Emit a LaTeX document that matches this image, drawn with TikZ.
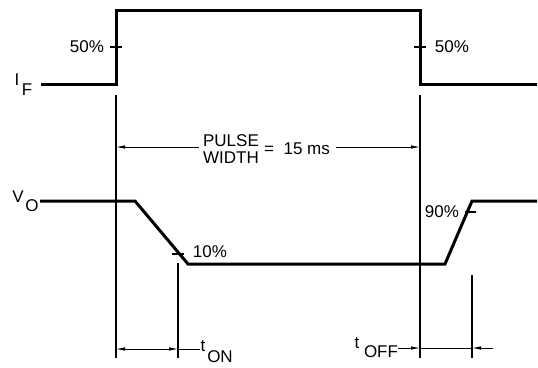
\documentclass[tikz,border=0pt]{standalone}
\usepackage{fontspec}
\setmainfont{Liberation Sans}
\usepackage{tikz}
\usetikzlibrary{arrows.meta,positioning}

\tikzset{
  wave/.style={line width=3pt, line join=miter},
  edge/.style={line width=1.8pt},
  guide/.style={line width=1.1pt},
  dim/.style={line width=0.8pt},
  tip/.style={-{Latex[length=9pt,width=3.5pt]}},
  lbl/.style={font=\fontsize{17}{18}\selectfont, inner sep=0pt},
}

\begin{document}
\begin{tikzpicture}[x=1pt,y=-1pt]
  \useasboundingbox (0,0) rectangle (538,367);

  % input current I_F
  \draw[wave] (41,84) -- (116,84) -- (116,10) -- (420,10) -- (420,84) -- (537,84);
  \draw[guide] (110,47) -- (122,47);
  \draw[guide] (414,47) -- (426,47);
  \node[lbl] (iflo) at (87,47) {50\%};
  \node[lbl] (ifhi) at (452,47) {50\%};
  \node[lbl] (ilbl) at (17,80) {I};
  \node[lbl] (flbl) at (27,90) {F};

  % output voltage V_O
  \draw[wave] (40,201) -- (135,201) -- (188,264) -- (445,264) -- (472,201) -- (537,201);
  \draw[guide] (172,254) -- (184,254);
  \draw[guide] (465,212) -- (476,212);
  \node[lbl] (ten) at (210,252) {10\%};
  \node[lbl] (ninety) at (442,212) {90\%};
  \node[lbl] (vlbl) at (18,197) {V};
  \node[lbl] (olbl) at (32,206) {O};

  % reference lines
  \draw[edge] (116,95) -- (116,358);
  \draw[edge] (420,95) -- (420,358);
  \draw[guide] (178,263) -- (178,358);
  \draw[guide] (472,275) -- (472,358);

  % pulse width
  \node[lbl] (pulse) at (231,141) {PULSE};
  \node[lbl] (wide) at (231,158) {WIDTH};
  \node[lbl, anchor=west] (width) at (264,149) {=\ \ 15 ms};
  \coordinate (pwl) at (116,147);
  \coordinate (pwr) at (420,147);
  \draw[dim, tip] (pulse.west |- pwl) ++(-4,0) -- (pwl);
  \draw[dim, tip] (width.east |- pwr) ++(6,0) -- (pwr);

  % t_ON
  \coordinate (onl) at (116,349);
  \coordinate (onr) at (178,349);
  \node[lbl] (tlbl) at (203,346) {t};
  \node[lbl] (onlbl) at (220,357) {ON};
  \draw[dim, {Latex[length=9pt,width=3.5pt]}-{Latex[length=9pt,width=3.5pt]}] (onl) -- (onr);
  \draw[dim] (onr) -- (200,349);

  % t_OFF
  \coordinate (offl) at (420,348);
  \coordinate (offr) at (472,348);
  \node[lbl] (t2lbl) at (357,343) {t};
  \node[lbl] (offlbl) at (381,352) {OFF};
  \draw[dim, tip] (offlbl.east |- offl) -- (offl);
  \draw[dim] (offl) -- (offr);
  \draw[dim, tip] (493,348) -- (offr);
\end{tikzpicture}
\end{document}
